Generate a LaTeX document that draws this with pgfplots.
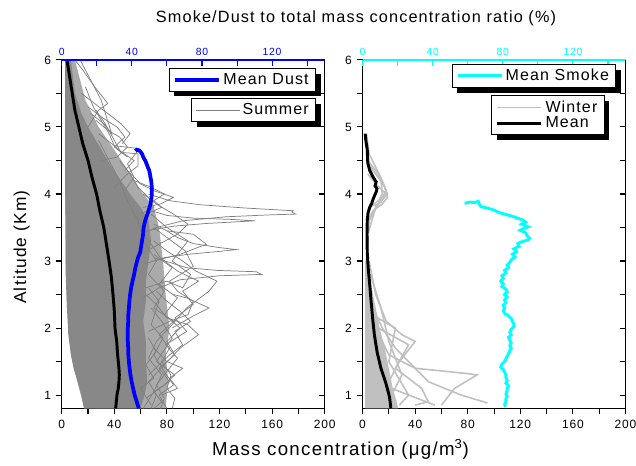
\documentclass[border=0pt]{standalone}
\usepackage{fontspec}
\setmainfont{Liberation Sans}[LetterSpace=7]
\usepackage{pgfplots}
\pgfplotsset{compat=1.18}
\usetikzlibrary{shadows}
\definecolor{sumgray}{RGB}{128,128,128}
\definecolor{sumcore}{RGB}{136,136,136}
\definecolor{sumhaze}{RGB}{170,170,170}
\definecolor{wingray}{RGB}{192,192,192}
\definecolor{mycyan}{RGB}{0,255,255}
\definecolor{myblue}{RGB}{0,0,255}
\makeatletter
\tikzset{nopre/.code={\let\tikz@preactions\pgfutil@empty}}
\makeatother

\pgfplotsset{
  panel/.style={scale only axis, width=197.25pt, height=261.4pt, anchor=south west,
    ymin=0.8, ymax=6, ytick={1,2,...,6}, minor ytick={1.5,2.5,...,5.5},
    major tick length=4.5pt, minor tick length=4.5pt,
    every tick/.style={black, line width=0.8pt},
    axis line style={line width=0.9pt},
    /pgf/number format/assume math mode=true,
    clip=true},
  mainax/.style={panel, xmin=0, xmax=200, xtick={0,40,...,200}, minor xtick={20,60,...,180},
    axis x line*=bottom, axis y line*=left, tick align=outside,
    ticklabel style={font=\fontsize{9}{10}\selectfont},
    xticklabel style={yshift=-1pt}},
  topax/.style={panel, xmin=0, xmax=150, xtick={0,40,80,120}, minor xtick={20,60,100,140},
    axis x line*=top, axis y line*=right, tick align=inside, yticklabels={},
    xticklabel style={font=\fontsize{7.8}{9}\selectfont, text=#1},
    x axis line style={#1, line width=0.9pt},
    xtick style={#1, line width=0.8pt}},
  boxleg/.style={legend style={draw=black, fill=white, line width=0.7pt,
    font=\fontsize{12}{13}\selectfont, inner xsep=3pt, inner ysep=1.5pt,
    row sep=-2pt, legend cell align=left,
    drop shadow={shadow xshift=4pt, shadow yshift=-4pt, fill=black, opacity=1}},
    legend image code/.code={\draw[nopre,##1] (0pt,0pt) -- (33pt,0pt);}},
  sl/.style={sumgray, line width=0.55pt, no marks},
  wl/.style={wingray, line width=1.2pt, no marks},
}

\begin{document}
\begin{tikzpicture}
\path[use as bounding box] (0,0) rectangle (477pt,348.75pt);

%================ LEFT PANEL (Summer / Dust) ================
\begin{axis}[mainax, at={(46.3pt,42.4pt)}, boxleg,
  legend style={at={(0.966,0.890)}, anchor=north east}]
% looser envelope of the summer profiles
\addplot[fill=sumhaze, draw=none, forget plot] coordinates {
(17,0.8)(12,1.2)(7,1.6)(4,2.3)(3,3.0)(2.5,4.2)(2.5,6)
(10,6)(18,5.4)(28,5.0)(42,4.6)(52,4.3)(62,4.0)(70,3.8)(74,3.5)(77,3.0)(79,2.5)(82,2.0)(79,1.6)(81,1.2)(79,0.8)};
% dense core of the summer profiles
\addplot[fill=sumcore, draw=none, forget plot] coordinates {
(17,0.8)(15,1.0)(12,1.2)(9,1.4)(7,1.6)(5,1.9)(4,2.3)(3,2.8)(3,3.5)(2.5,4.2)(2.5,5)(2.5,6)
(7,6)(10,5.5)(15,5.2)(20,5.0)(26,4.8)(32,4.6)(38,4.4)(45,4.2)(52,4.0)(60,3.8)(66,3.6)(68,3.3)
(66,3.0)(64,2.7)(64,2.4)(62,2.1)(64,1.8)(64,1.5)(65,1.2)(63,1.0)(60,0.8)};
\addplot[sl] coordinates {(84,0.8)(86,0.95)(80,1.1)(83,1.3)(76,1.5)(82,1.7)(74,1.9)(85,2.1)(70,2.3)(78,2.55)(66,2.8)(72,3.0)(62,3.3)(58,3.6)(50,3.9)(44,4.2)(36,4.5)(28,4.8)};
\addlegendentry{Summer}
\addplot[sl, forget plot] coordinates {(75,0.8)(78,0.95)(72,1.15)(80,1.35)(88,1.55)(79,1.75)(95,1.95)(86,2.15)(100,2.35)(92,2.55)(104,2.7)(88,2.85)(75,3.05)(68,3.25)(60,3.45)};
\addplot[sl, forget plot] coordinates {(68,0.8)(72,1.0)(66,1.2)(78,1.45)(90,1.7)(104,1.9)(96,2.05)(80,2.15)(72,2.35)(64,2.5)};
\addplot[sl, forget plot] coordinates {(62,0.8)(70,1.05)(76,1.3)(66,1.55)(72,1.8)(84,2.05)(95,2.3)(112,2.55)(118,2.7)(102,2.85)(92,3.0)(80,3.15)(70,3.3)};
\addplot[sl, forget plot] coordinates {(62,2.45)(74,2.6)(90,2.72)(120,2.78)(152,2.8)(148,2.84)(118,2.86)(95,2.9)(82,2.98)(70,3.05)};
\addplot[sl, forget plot] coordinates {(62,2.95)(78,3.05)(96,3.1)(118,3.14)(133,3.17)(120,3.2)(100,3.26)(88,3.35)(80,3.45)(70,3.55)};
\addplot[sl, forget plot] coordinates {(60,3.4)(72,3.5)(92,3.6)(125,3.66)(160,3.69)(178,3.7)(175,3.73)(176,3.75)(140,3.79)(105,3.84)(82,3.9)(66,4.0)};
\addplot[sl, forget plot] coordinates {(64,3.45)(85,3.52)(110,3.56)(147,3.6)(130,3.62)(100,3.64)(80,3.68)(68,3.75)};
\addplot[sl, forget plot] coordinates {(48,4.05)(55,4.25)(50,4.45)(57,4.62)(58,4.68)(40,4.72)(36,4.9)(30,5.1)(24,5.3)(18,5.6)};
\addplot[sl, forget plot] coordinates {(40,4.1)(50,4.3)(58,4.42)(58,4.6)(45,4.62)(40,4.8)(33,5.05)(26,5.25)};
\addplot[sl, forget plot] coordinates {(60,3.1)(74,3.25)(88,3.4)(96,3.55)(85,3.7)(72,3.85)(62,4.0)};
\addplot[sl, forget plot] coordinates {(66,1.95)(82,2.1)(96,2.2)(100,2.4)(88,2.55)(82,2.7)(100,2.92)(94,3.15)(80,3.35)(70,3.5)};
\addplot[sl, forget plot] coordinates {(64,0.95)(78,1.15)(86,1.3)(72,1.5)(84,1.85)(76,2.1)(68,2.3)};
\addplot[sl, forget plot] coordinates {(22,5.2)(32,5.05)(38,4.9)(30,5.4)(22,5.7)(14,6.0)};
\addplot[sl, forget plot] coordinates {(20,5.0)(28,5.25)(35,5.35)(25,5.6)(16,5.85)(10,6.0)};
\addplot[sl, forget plot] coordinates {(84,2.0)(100,2.18)(112,2.3)(95,2.45)(85,2.5)};
\addplot[sl, forget plot] coordinates {(70,3.0)(90,3.1)(110,3.25)(100,3.4)(80,3.45)};
\addplot[sl, forget plot] coordinates {(30,4.5)(42,4.55)(50,4.7)(44,4.85)(35,4.95)(26,5.1)};
\addplot[sl, forget plot] coordinates {(70,0.8)(76,0.9)(70,1.05)(82,1.2)(74,1.4)(86,1.6)(80,1.8)(90,2.0)(78,2.2)(88,2.45)(74,2.65)(84,2.9)(70,3.1)};
\addplot[sl, forget plot] coordinates {(80,0.8)(74,1.0)(85,1.15)(78,1.35)(70,1.6)(77,1.85)(68,2.05)(74,2.4)(66,2.6)};
\addplot[sl, forget plot] coordinates {(66,1.3)(74,1.45)(82,1.6)(92,1.75)(86,1.95)(98,2.1)(90,2.25)(80,2.4)(72,2.55)};
\addplot[sl, forget plot] coordinates {(64,2.6)(80,2.7)(92,2.6)(98,2.8)(84,3.0)(96,3.3)(80,3.5)(68,3.7)};
\addplot[sl, forget plot] coordinates {(60,3.7)(70,3.8)(66,3.95)(58,4.1)(52,4.3)(44,4.5)};
\addplot[sl, forget plot] coordinates {(68,0.85)(60,1.1)(70,1.25)(64,1.45)(72,1.65)(66,1.85)};
\addplot[sl, forget plot] coordinates {(76,1.0)(88,1.1)(82,1.25)(92,1.4)(80,1.5)(70,1.7)};
\addplot[sl, forget plot] coordinates {(62,3.8)(75,3.85)(85,3.95)(70,4.05)(60,4.15)(50,4.35)};
\addplot[sl, forget plot] coordinates {(20,5.3)(30,5.15)(42,5.0)(48,4.85)(40,4.7)(50,4.55)};
\addplot[sl, forget plot] coordinates {(15,5.5)(25,5.35)(35,5.2)(45,5.05)(52,4.9)(46,4.75)};
\addplot[sl, forget plot] coordinates {(28,4.9)(38,4.75)(46,4.62)(55,4.5)(48,4.35)};
\addplot[sl, forget plot] coordinates {(55,4.2)(68,4.1)(78,4.0)(70,3.9)(76,3.8)(64,3.7)};
% summer mean
\addplot[black, line width=2.2pt, no marks, forget plot] coordinates {
(4,6.0)(6,5.75)(8,5.5)(10,5.25)(13,5.0)(16,4.75)(20,4.5)(23,4.25)(26.5,4.0)(29,3.75)(32,3.5)(34,3.25)
(36,3.0)(37.8,2.75)(39,2.5)(40,2.25)(40.5,2.0)(41.8,1.8)(42.5,1.6)(43.5,1.4)(43.8,1.3)(43.5,1.2)(43,1.1)(42,1.0)(41.5,0.9)(41,0.8)};
\end{axis}

\begin{axis}[topax=myblue, at={(46.3pt,42.4pt)}, boxleg,
  legend style={at={(0.966,0.976)}, anchor=north east}]
\addplot[myblue, line width=2.8pt, no marks] coordinates {
(42,4.64)(42.8,4.66)(44.3,4.65)(45.8,4.60)(46.5,4.55)(47.6,4.50)(48.4,4.45)(49.1,4.40)(49.9,4.35)(50.3,4.30)
(50.6,4.25)(51,4.20)(51.2,4.15)(51.4,4.10)(51.4,4.05)(51.4,4.0)(51.2,3.95)(51,3.90)(50.6,3.85)(50.1,3.80)
(49.5,3.75)(48.9,3.70)(48.2,3.65)(47.6,3.60)(47.1,3.55)(46.7,3.50)(46.5,3.45)(46.4,3.40)(46.1,3.35)(45.8,3.30)
(45.5,3.25)(45.2,3.20)(44.9,3.15)(44.3,3.10)(43.5,3.05)(43,3.0)(42,2.9)(41.3,2.8)(40.4,2.7)(39.6,2.6)
(39,2.5)(38.6,2.4)(38.3,2.3)(38,2.2)(37.9,2.1)(37.7,2.0)(37.7,1.9)(37.7,1.8)(37.9,1.7)(38,1.6)
(38.3,1.5)(38.7,1.4)(39.2,1.3)(39.9,1.2)(40.7,1.1)(41.6,1.0)(42.8,0.9)(43.95,0.8)};
\addlegendentry{Mean Dust}
\end{axis}

%================ RIGHT PANEL (Winter / Smoke) ================
\begin{axis}[mainax, at={(271.9pt,42.4pt)}, boxleg,
  legend style={at={(0.92,0.898)}, anchor=north east}]
\addplot[fill=wingray, draw=none, forget plot] coordinates {
(2,0.8)(2,3.0)(4,3.0)(7,2.6)(10,2.3)(13,2.0)(17,1.7)(20,1.4)(23,1.1)(26,0.9)(27,0.8)};
\addplot[wl] coordinates {(3,4.9)(5,4.6)(10,4.4)(15,4.2)(18,4.05)(12,3.85)(5,3.6)(3,3.0)(5,2.5)(10,2.0)(20,1.6)(40,1.4)(80,1.32)(87,1.3)(70,1.1)(60,0.85)};
\addlegendentry{Winter}
\addplot[wl, forget plot] coordinates {(4,4.5)(12,4.3)(19,4.0)(10,3.8)(4,3.4)(4,2.8)(8,2.3)(15,2.0)(25,1.7)(35,1.5)(50,1.2)(75,1.0)(92,0.9)(95,0.88)};
\addplot[wl, forget plot] coordinates {(5,3.0)(10,2.5)(18,2.1)(30,1.9)(40,1.8)(28,1.5)(20,1.2)(15,0.85)};
\addplot[wl, forget plot] coordinates {(3,2.8)(8,2.4)(12,2.0)(35,1.75)(25,1.4)(45,1.1)(50,0.9)(40,0.85)};
\addplot[wl, forget plot] coordinates {(4,2.6)(7,2.2)(25,2.0)(20,1.5)(35,1.0)(28,0.85)};
\addplot[wl, forget plot] coordinates {(3,2.5)(6,2.0)(10,1.6)(15,1.2)(10,0.85)};
\addplot[wl, forget plot] coordinates {(3,2.3)(5,1.8)(8,1.4)(22,1.1)(55,0.85)};
\addplot[wl, forget plot] coordinates {(6,2.8)(14,2.3)(20,1.8)(30,1.3)(22,1.0)(20,0.85)};
\addplot[wl, forget plot] coordinates {(3,4.6)(6,4.4)(12,4.25)(17,4.1)(19,3.95)(15,3.85)(8,3.75)(4,3.6)(3,3.3)};
\addplot[wl, forget plot] coordinates {(3,4.5)(8,4.35)(14,4.2)(15,4.0)(12,3.9)(6,3.8)(3,3.6)};
\addplot[wl, forget plot] coordinates {(4,4.3)(10,4.15)(18,4.0)(14,3.88)(9,3.82)};
\addplot[black, line width=2.2pt, no marks] coordinates {
(2,4.90)(2.5,4.8)(3.6,4.66)(3.8,4.55)(4,4.46)(5.5,4.35)(7.8,4.26)(10.4,4.18)(9.5,4.12)(11,4.08)(10.4,4.03)
(9,3.97)(7.8,3.91)(7,3.86)(5.6,3.81)(4.2,3.72)(3.6,3.61)(3.4,3.4)(3.6,3.12)(4.3,2.9)(5.6,2.62)(6.5,2.4)
(7.8,2.12)(9,1.9)(11.2,1.63)(14,1.4)(17.7,1.18)(19.5,1.05)(20.5,0.97)(21.3,0.85)(21.5,0.8)};
\addlegendentry{Mean}
\end{axis}

\begin{axis}[topax=mycyan, at={(271.9pt,42.4pt)}, boxleg,
  legend style={at={(0.964,0.9885)}, anchor=north east}]
\addplot[mycyan, line width=2.2pt, no marks] coordinates {
(58.2,3.86)(61.5,3.88)(63.8,3.87)(66,3.89)(66.8,3.84)(67.5,3.81)(71.3,3.79)(75,3.76)(77.3,3.73)(79.5,3.71)
(82.5,3.69)(86.3,3.66)(89.3,3.63)(91.5,3.61)(93,3.58)(90.8,3.55)(94.5,3.51)(91.5,3.48)(90,3.46)(93,3.42)
(93.8,3.38)(95.3,3.34)(93.8,3.31)(90,3.28)(88.5,3.26)(89.3,3.22)(86.3,3.18)(87.8,3.14)(85.5,3.10)(87,3.06)
(84.8,3.02)(84,2.98)(82.5,2.94)(83.3,2.90)(81,2.86)(81.8,2.82)(79.5,2.78)(80.3,2.74)(78.8,2.70)(80.3,2.66)
(79.5,2.62)(81.8,2.58)(82.5,2.54)(81,2.50)(82.5,2.46)(81,2.42)(81.8,2.38)(80.3,2.34)(81,2.30)(80.3,2.26)
(81,2.22)(83.3,2.18)(84.8,2.14)(85.5,2.10)(86.3,2.06)(86.3,2.02)(84.8,1.98)(84,1.94)(84.8,1.90)(83.3,1.86)
(84,1.82)(84.8,1.78)(84,1.74)(84.8,1.70)(84,1.66)(83.3,1.62)(82.5,1.58)(81.8,1.54)(81,1.50)(79.5,1.46)
(78.8,1.42)(80.3,1.38)(81,1.34)(81.8,1.30)(81.8,1.26)(82.5,1.22)(81.8,1.18)(83.3,1.14)(82.5,1.10)(82.5,1.06)
(81.8,1.02)(82.5,0.98)(81.8,0.94)(81.8,0.90)(81,0.86)(81.8,0.83)};
\addlegendentry{Mean Smoke}
\end{axis}

% titles
\node[rotate=90, font=\fontsize{13}{15}\selectfont] at (16.3pt,163.5pt) {Altitude (Km)};
\node[font=\fontsize{14}{16}\selectfont] at (255.4pt,11.5pt) {Mass concentration (μg/m\textsuperscript{3})};
\node[font=\fontsize{12.2}{14}\selectfont] at (267pt,335pt) {Smoke/Dust to total mass concentration ratio (\%)};
\end{tikzpicture}
\end{document}
